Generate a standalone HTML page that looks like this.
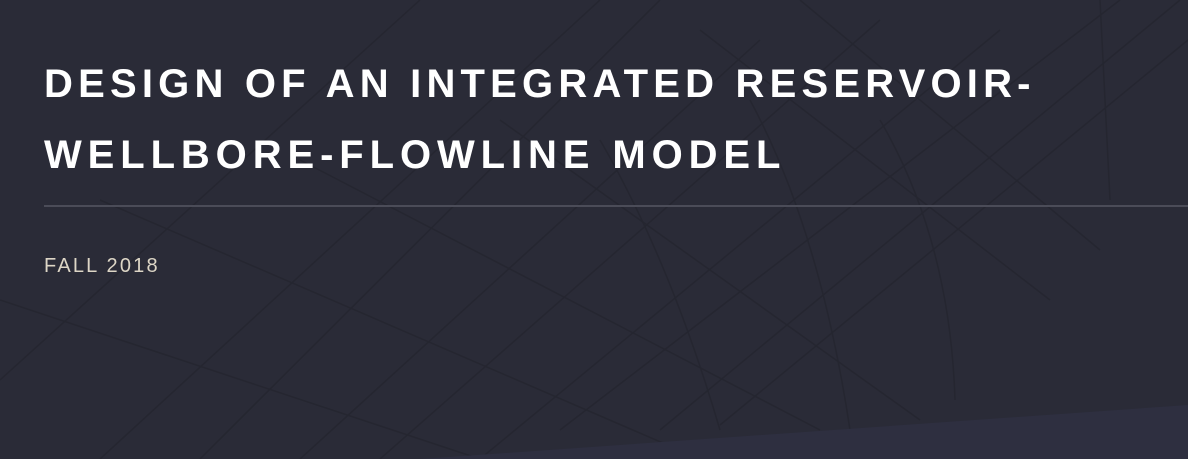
<!DOCTYPE html>
<html><head><style>
html,body{margin:0;padding:0;}
body{width:1188px;height:459px;overflow:hidden;background:#2a2b37;position:relative;font-family:"Liberation Sans",sans-serif;}
svg{position:absolute;left:0;top:0;}
.t{position:absolute;left:44px;color:#fff;font-weight:bold;font-size:40px;white-space:nowrap;line-height:1;}
.rule{position:absolute;left:44px;top:205px;width:1144px;height:2px;background:#4b4c58;}
.d{position:absolute;left:44px;top:255px;font-size:20px;color:#ddd6c6;letter-spacing:2.2px;white-space:nowrap;}
</style></head><body>
<svg width="1188" height="459">
<g stroke="#22232d" stroke-width="1.5" fill="none" opacity="0.6">
<path d="M300 459 L760 40"/><path d="M380 459 L880 20"/><path d="M480 459 L1000 30"/>
<path d="M560 430 L1120 0"/><path d="M660 430 L1180 0"/><path d="M720 425 L1188 40"/>
<path d="M0 380 L420 0"/><path d="M100 459 L600 0"/><path d="M200 459 L660 0"/>
<path d="M0 300 L480 459"/><path d="M100 200 L700 459"/><path d="M300 160 L820 430"/>
<path d="M500 120 L920 420"/><path d="M700 30 L1050 300"/><path d="M800 0 L1100 250"/>
<path d="M880 120 Q950 240 955 400"/><path d="M750 100 Q820 230 850 430"/><path d="M600 140 Q670 260 720 430"/>
<path d="M1100 0 L1110 200"/>
</g>
<polygon points="420,459 1188,405 1188,459" fill="#2e2f40"/>
</svg>
<div class="t" style="top:64px;letter-spacing:5.2px">DESIGN OF AN INTEGRATED RESERVOIR-</div>
<div class="t" style="top:135px;letter-spacing:5.9px">WELLBORE-FLOWLINE MODEL</div>
<div class="rule"></div>
<div class="d">FALL 2018</div>
</body></html>
